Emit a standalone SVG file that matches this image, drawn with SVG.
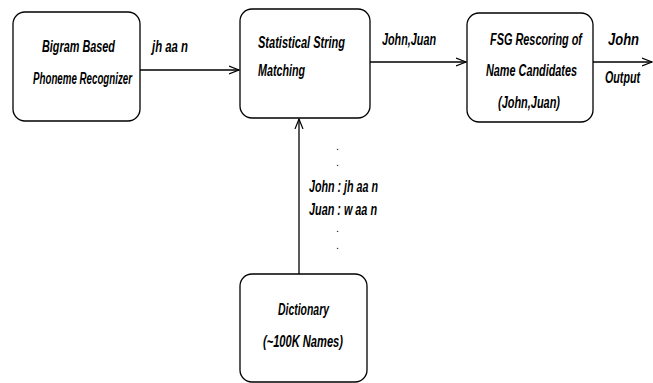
<svg xmlns="http://www.w3.org/2000/svg" width="653" height="383" viewBox="0 0 653 383">
<defs>
<marker id="arr" markerWidth="12" markerHeight="10" refX="10" refY="5" orient="auto" markerUnits="userSpaceOnUse">
<polyline points="0,1 10,5 0,9" fill="none" stroke="#000" stroke-width="1.2"/>
</marker>
<style>
.box{fill:#fff;stroke:#000;stroke-width:1.3}
.t{font-family:"Liberation Sans",Arial,sans-serif;font-size:16px;font-weight:bold;font-style:italic;fill:#000}
.d{font-family:"Liberation Sans",Arial,sans-serif;font-size:11px;fill:#000}
.c{stroke:#000;stroke-width:1.3;fill:none}
</style>
</defs>
<rect width="653" height="383" fill="#fff"/>
<g id="connectors">
<line class="c" x1="140" y1="70" x2="239" y2="70" marker-end="url(#arr)"/>
<line class="c" x1="370" y1="62" x2="466" y2="62" marker-end="url(#arr)"/>
<line class="c" x1="593" y1="62" x2="652" y2="62" marker-end="url(#arr)"/>
<line class="c" x1="299" y1="274" x2="299" y2="119" marker-end="url(#arr)"/>
<text class="t" x="152" y="52" textLength="36" lengthAdjust="spacingAndGlyphs">jh aa n</text>
<text class="t" x="382" y="45" textLength="54" lengthAdjust="spacingAndGlyphs">John,Juan</text>
<text class="t" x="608" y="45" textLength="31" lengthAdjust="spacingAndGlyphs">John</text>
<text class="t" x="605" y="83" textLength="35" lengthAdjust="spacingAndGlyphs">Output</text>
<text class="d" x="336" y="150">.</text>
<text class="d" x="336" y="166">.</text>
<text class="t" x="309" y="192" textLength="69" lengthAdjust="spacingAndGlyphs">John : jh aa n</text>
<text class="t" x="309" y="215" textLength="68" lengthAdjust="spacingAndGlyphs">Juan : w aa n</text>
<text class="d" x="336" y="232">.</text>
<text class="d" x="336" y="249">.</text>
</g>
<g id="recognizer">
<rect class="box" x="13" y="12" width="127" height="109" rx="12"/>
<text class="t" x="42" y="52" textLength="73" lengthAdjust="spacingAndGlyphs">Bigram Based</text>
<text class="t" x="33" y="84" textLength="99" lengthAdjust="spacingAndGlyphs">Phoneme Recognizer</text>
</g>
<g id="matching">
<rect class="box" x="240" y="9" width="130" height="109" rx="12"/>
<text class="t" x="258" y="48" textLength="87" lengthAdjust="spacingAndGlyphs">Statistical String</text>
<text class="t" x="258" y="76" textLength="47" lengthAdjust="spacingAndGlyphs">Matching</text>
</g>
<g id="rescoring">
<rect class="box" x="467" y="13" width="126" height="109" rx="12"/>
<text class="t" x="490" y="45" textLength="92" lengthAdjust="spacingAndGlyphs">FSG Rescoring of</text>
<text class="t" x="486" y="76" textLength="91" lengthAdjust="spacingAndGlyphs">Name Candidates</text>
<text class="t" x="498" y="108" textLength="62" lengthAdjust="spacingAndGlyphs">(John,Juan)</text>
</g>
<g id="dictionary">
<rect class="box" x="240" y="274" width="127" height="108" rx="12"/>
<text class="t" x="278" y="315" textLength="51" lengthAdjust="spacingAndGlyphs">Dictionary</text>
<text class="t" x="263" y="347" textLength="80" lengthAdjust="spacingAndGlyphs">(~100K Names)</text>
</g>
</svg>
